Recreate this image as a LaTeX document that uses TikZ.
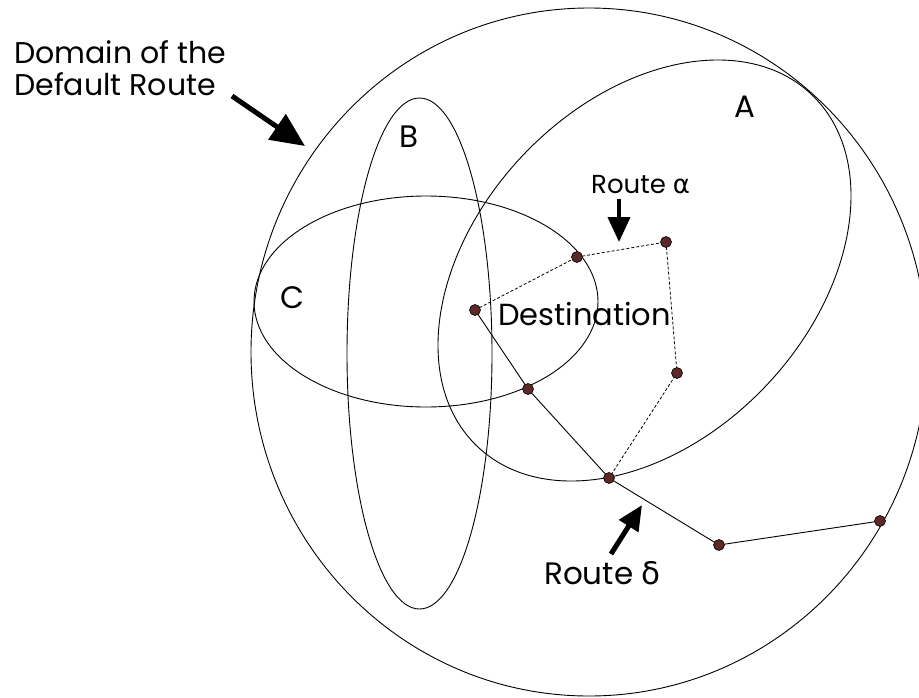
\documentclass[tikz,border=0pt]{standalone}
\usepackage{fontspec}
\setmainfont{Poppins}
\newfontfamily\greekfont{DejaVu Sans}
\usetikzlibrary{arrows.meta}
\definecolor{dotfill}{RGB}{92,40,40}
\begin{document}
\begin{tikzpicture}[x=1pt,y=-1pt,
  outline/.style={line width=0.9pt},
  routedot/.style={circle,draw=black,fill=dotfill,line width=0.6pt,minimum size=11pt,inner sep=0pt},
  pointer/.style={line width=5pt,-{Triangle[length=34pt,width=30pt]}},
  smallpointer/.style={line width=4pt,-{Triangle[length=25pt,width=22pt]}},
  lbl/.style={inner sep=0pt,anchor=base west},
  dashedroute/.style={line width=0.8pt,dash pattern=on 3pt off 2pt},
  solidroute/.style={line width=0.9pt}]
\useasboundingbox (0,0) rectangle (919,697);
% regions
\draw[outline] (589,352) ellipse [x radius=338pt, y radius=344pt];
\draw[outline, rotate around={46.55:(644.5,270.5)}] (644.5,270.5) ellipse [x radius=242.7pt, y radius=167.5pt];
\draw[outline] (419.5,353.5) ellipse [x radius=72.5pt, y radius=255.5pt];
\draw[outline] (426,301.5) ellipse [x radius=172pt, y radius=105.5pt];
% route points
\coordinate (p1) at (475,310);
\coordinate (p2) at (577,257);
\coordinate (p3) at (666,242);
\coordinate (p4) at (677,373);
\coordinate (p5) at (609,478);
\coordinate (p6) at (528,389);
\coordinate (p7) at (719,545);
\coordinate (p8) at (880,521);
\draw[dashedroute] (p1) -- (p2) -- (p3) -- (p4) -- (p5);
\draw[solidroute] (p1) -- (p6) -- (p5) -- (p7) -- (p8);
\foreach \i in {1,...,8} \node[routedot] (d\i) at (p\i) {};
% labels
\node[lbl,font=\fontsize{30}{32}\selectfont,align=left] (dom) at (14,95) {Domain of the\\Default Route};
\node[lbl,font=\fontsize{31}{36}\selectfont] (la) at (734,117) {A};
\node[lbl,font=\fontsize{31}{36}\selectfont] (lb) at (399,147) {B};
\node[lbl,font=\fontsize{31}{36}\selectfont] (lc) at (280,308) {C};
\node[lbl,font=\fontsize{30.5}{36}\selectfont] (dest) at (498,325) {Destination};
\node[lbl,font=\fontsize{26}{28}\selectfont] (ra) at (591,193) {Route {\greekfont α}};
\node[lbl,font=\fontsize{31}{32}\selectfont] (rd) at (544,584) {Route {\greekfont δ}};
% pointers
\coordinate (a1s) at (232,96);  \coordinate (a1e) at (305,146);
\coordinate (a2s) at (619,199); \coordinate (a2e) at (619,242);
\coordinate (a3s) at (611,554); \coordinate (a3e) at (642,505);
\draw[pointer] (a1s) -- (a1e);
\draw[smallpointer] (a2s) -- (a2e);
\draw[smallpointer,line width=5pt] (a3s) -- (a3e);
\end{tikzpicture}
\end{document}
